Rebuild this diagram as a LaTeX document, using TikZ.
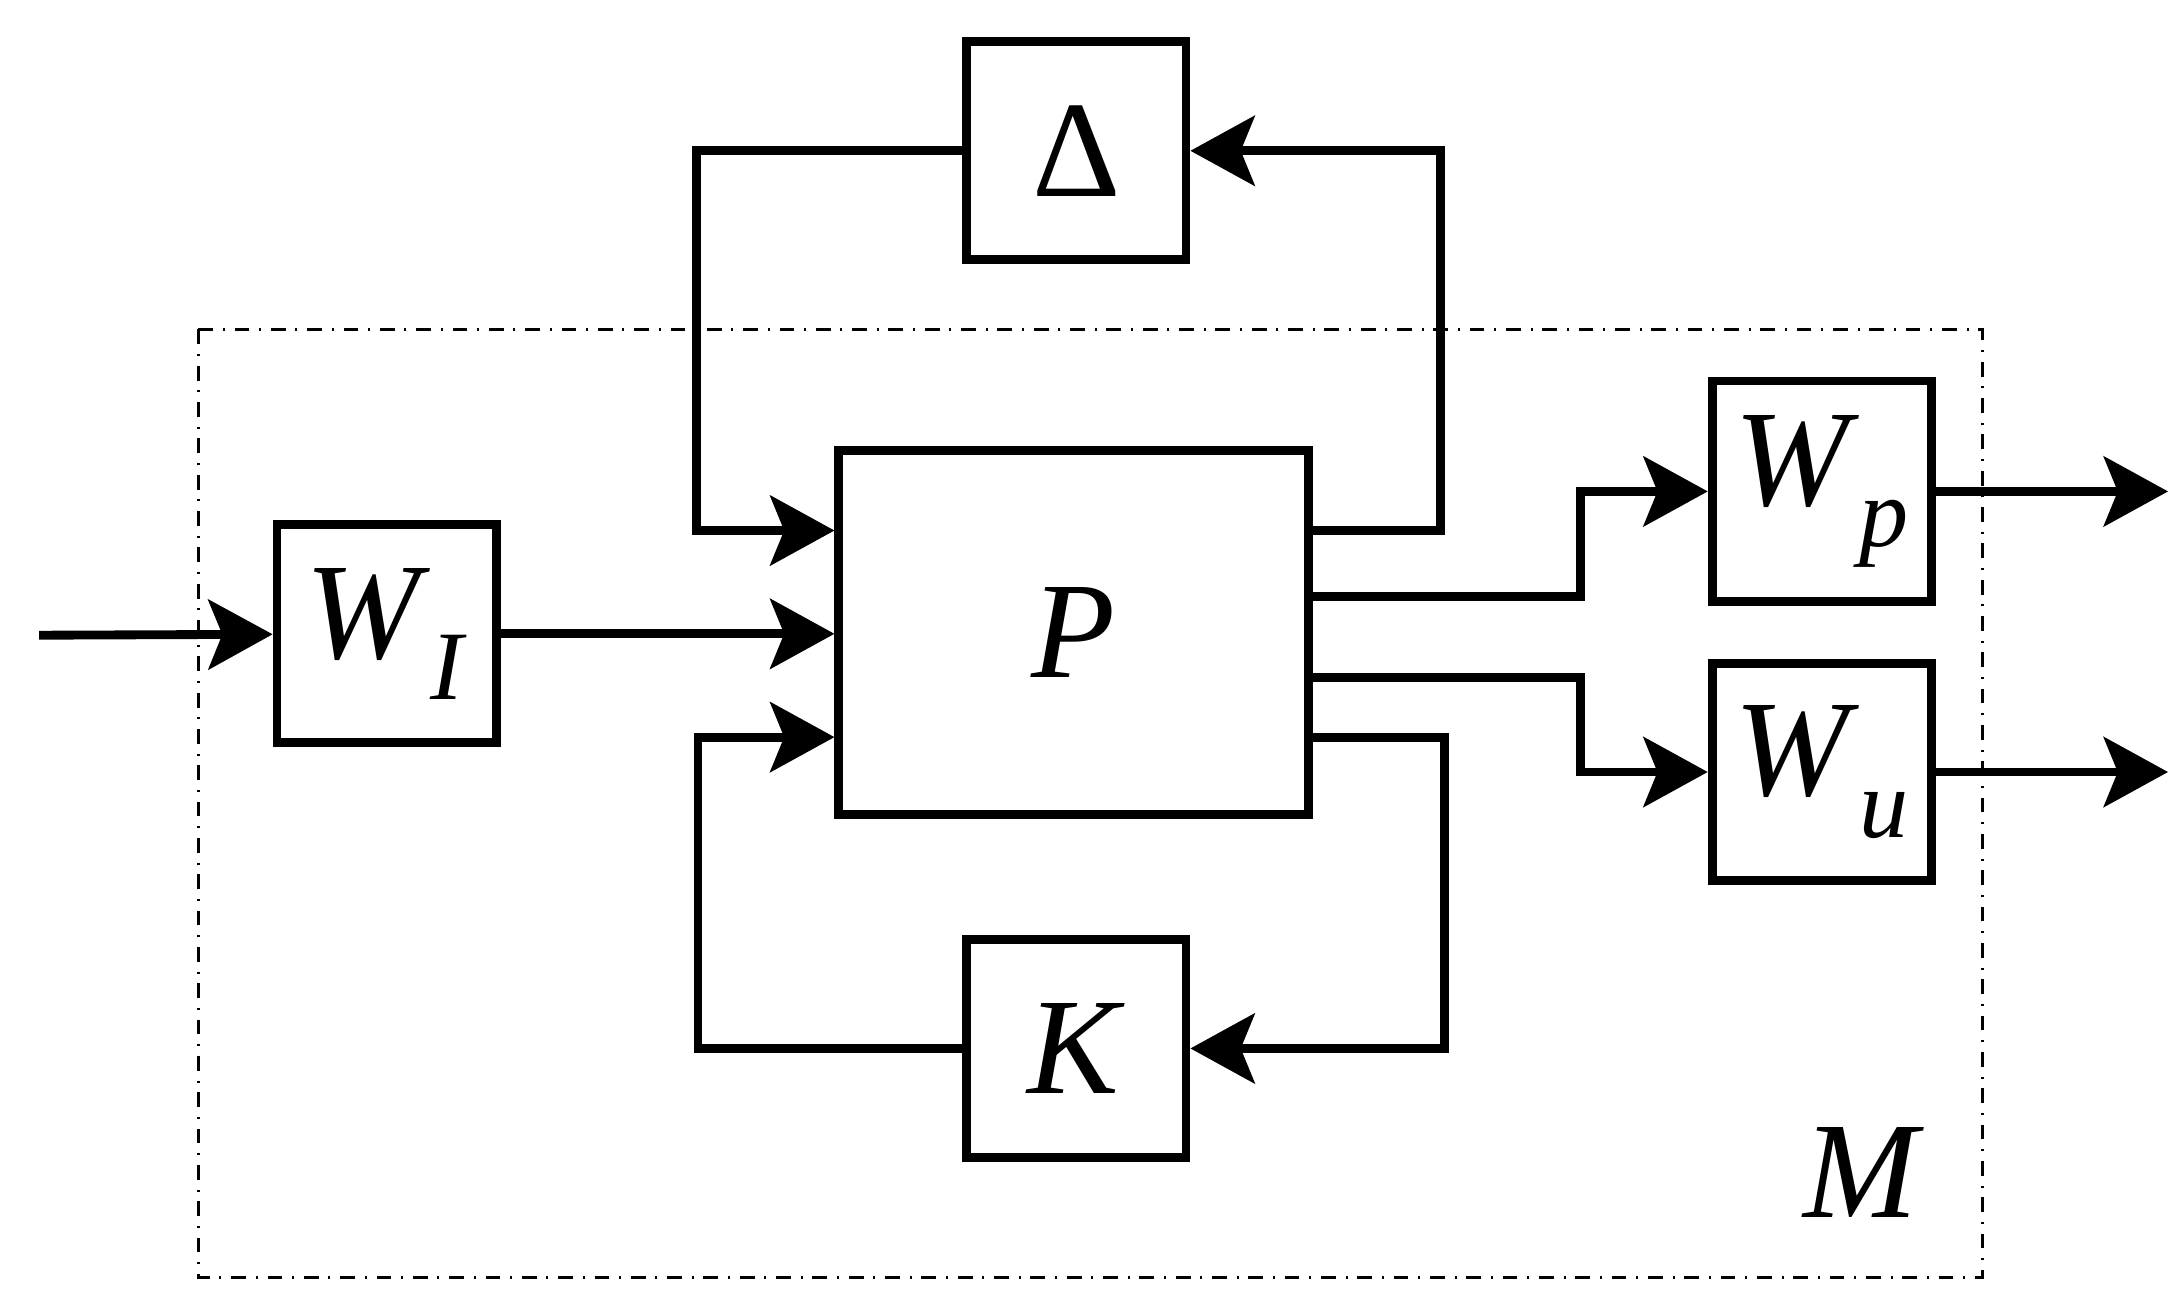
\documentclass[tikz,border=0pt]{standalone}
\usepackage{fontspec}
\setmainfont{Liberation Serif}
\usetikzlibrary{arrows.meta, positioning}
\newcommand{\sub}[2]{\textit{#1}\raisebox{-0.3em}{\fontsize{20}{22}\selectfont\textit{#2}}}
\begin{document}
\begin{tikzpicture}[x=0.01cm, y=-0.01cm,
      block/.style = {draw, line width=1.8pt, minimum width=1.57cm, minimum height=1.56cm,
                      inner sep=0pt, font=\fontsize{28}{32}\selectfont},
      arrow/.style = {line width=1.8pt, -{Stealth[length=0.46cm, width=0.5cm, inset=0.1cm]}},
      wire/.style  = {line width=1.8pt}
                            ]
  \useasboundingbox (0,0) rectangle (1563,935);
  % blocks
  \node (D)  [block] at (771,108) {Δ};
  \node (P)  [block, minimum width=3.36cm, minimum height=2.61cm] at (769,453) {\textit{P}};
  \node (WI) [block] at (277,454) {\sub{W}{I}};
  \node (K)  [block] at (771,751) {\textit{K}};
  \node (Wp) [block, minimum height=1.58cm] at (1305,352) {\sub{W}{p}};
  \node (Wu) [block, minimum height=1.55cm] at (1305,553) {\sub{W}{u}};
  \draw [dash dot, line width=0.6pt] (142,236) rectangle (1420,915);
  \node (M) [font=\fontsize{28}{32}\selectfont\itshape] at (1333,840) {M};
  \coordinate (in)   at (28,455);
  \coordinate (outp) at (1553,352);
  \coordinate (outu) at (1553,553);
  % connection lines
  \draw [arrow] (in) -- (WI);
  \draw [arrow] (WI) -- (WI -| P.west);
  \draw [arrow] (D.west) -| (499,380) -- (P.west |- 0,380);
  \draw [arrow] (P.east |- 0,380) -| (1032,108) -- (D.east);
  \draw [arrow] (P.east |- 0,528) -| (1035,751) -- (K.east);
  \draw [arrow] (K.west) -| (500,528) -- (P.west |- 0,528);
  \draw [arrow] (P.east |- 0,427) -| (1132,352) -- (Wp.west);
  \draw [arrow] (P.east |- 0,485) -| (1132,553) -- (Wu.west);
  \draw [arrow] (Wp.east) -- (outp);
  \draw [arrow] (Wu.east) -- (outu);
\end{tikzpicture}
\end{document}
